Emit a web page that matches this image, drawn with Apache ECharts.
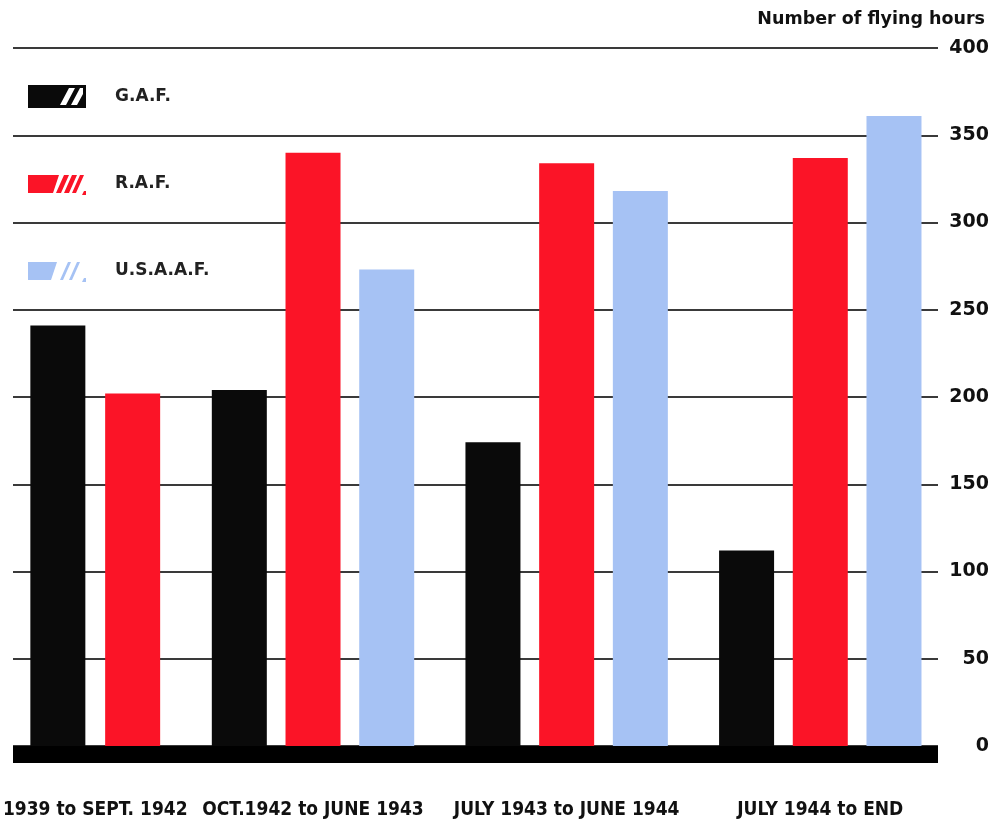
<!DOCTYPE html>
<html>
<head>
<meta charset="utf-8">
<script src="https://cdn.jsdelivr.net/npm/echarts@6/dist/echarts.min.js"></script>
<style>
  html, body { margin: 0; padding: 0; background: #ffffff; }
  #chart { width: 995px; height: 822px; }
</style>
</head>
<body>
<div id="chart"></div>
<script>
// ---- data ----
const periods = ['1939 to SEPT. 1942', 'OCT.1942 to JUNE 1943', 'JULY 1943 to JUNE 1944', 'JULY 1944 to END'];
const gafHours = [241, 204, 174, 112];
const rafHours = [202, 340, 334, 337];
const usaafHours = [null, 273, 318, 361];
const yTicks = [0, 50, 100, 150, 200, 250, 300, 350, 400];
const seriesNames = ['G.A.F.', 'R.A.F.', 'U.S.A.A.F.'];
const yTitle = 'Number of flying hours';

// ---- styles ----
const colors = { gaf: '#0a0a0a', raf: '#fb1427', usaaf: '#a6c2f4' };
const gridTop = 48, gridBottom = 76;
const barW = 55;
const labelFont = "'Liberation Sans Narrow', 'DejaVu Sans Condensed', 'Arial Narrow', sans-serif";

const iconGaf = 'path://M0 0 L58 0 L58 23 L0 23 Z M32 20 L38 20 L47 3 L41 3 Z M43 20 L49 20 L55 9 L55 3 L52 3 Z';
const iconRaf = 'path://M0 3 L31 3 L25 21 L0 21 Z M28 21 L33 21 L41 3 L36 3 Z M36 21 L41 21 L49 3 L44 3 Z M44 21 L48 21 L56 3 L52 3 Z M54 23 L58 23 L58 19 L56 19 Z M0 0 L0.01 0 Z';
const iconUsaaf = 'path://M0 3 L29 3 L23 21 L0 21 Z M32 21 L35 21 L43 3 L40 3 Z M41 21 L44 21 L52 3 L49 3 Z M54 23 L58 23 L58 19 L56 19 Z M0 0 L0.01 0 Z';

const firstOnly = arr => arr.slice(0, 1);
const restOf = arr => arr.slice(1);

const catLabel = { margin: 55, interval: 0, fontFamily: labelFont, fontWeight: 'bold', fontSize: 19, color: '#111' };

const chart = echarts.init(document.getElementById('chart'));
chart.setOption({
  backgroundColor: '#ffffff',
  animation: false,
  title: {
    text: yTitle,
    right: 10,
    top: 10,
    padding: 0,
    textStyle: { fontFamily: 'DejaVu Sans', fontWeight: 'bold', fontSize: 17.5, color: '#111' }
  },
  legend: {
    orient: 'vertical',
    left: 28,
    top: 85,
    padding: 0,
    itemWidth: 58,
    itemHeight: 23,
    itemGap: 64,
    selectedMode: false,
    textStyle: { fontFamily: 'DejaVu Sans', fontWeight: 'bold', fontSize: 17, color: '#222', padding: [4, 0, 0, 24] },
    data: [
      { name: seriesNames[0], icon: iconGaf },
      { name: seriesNames[1], icon: iconRaf },
      { name: seriesNames[2], icon: iconUsaaf }
    ]
  },
  grid: [
    { left: 13, right: 57, top: gridTop, bottom: gridBottom, outerBoundsMode: 'none' },
    { left: 0, width: 190.5, top: gridTop, bottom: gridBottom, outerBoundsMode: 'none' },
    { left: 186.2, right: 47.9, top: gridTop, bottom: gridBottom, outerBoundsMode: 'none' }
  ],
  xAxis: [
    {
      gridIndex: 0, type: 'value', min: 0, max: 1,
      axisLine: { show: true, onZero: false, lineStyle: { color: '#000', width: 17, cap: 'butt' } },
      offset: 8.5,
      axisTick: { show: false }, axisLabel: { show: false }, splitLine: { show: false }
    },
    {
      gridIndex: 1, type: 'category', data: firstOnly(periods),
      axisLine: { show: false }, axisTick: { show: false }, axisLabel: catLabel
    },
    {
      gridIndex: 2, type: 'category', data: restOf(periods),
      axisLine: { show: false }, axisTick: { show: false }, axisLabel: catLabel
    }
  ],
  yAxis: [
    {
      gridIndex: 0, type: 'value', position: 'right',
      min: yTicks[0], max: yTicks[yTicks.length - 1], interval: yTicks[1] - yTicks[0],
      axisLine: { show: false }, axisTick: { show: false },
      axisLabel: { align: 'right', margin: 51, fontFamily: 'DejaVu Sans', fontWeight: 'bold', fontSize: 19, color: '#111' },
      splitLine: { show: true, lineStyle: { color: '#3a3a3a', width: 2 } }
    },
    { gridIndex: 1, type: 'value', min: yTicks[0], max: yTicks[yTicks.length - 1], show: false },
    { gridIndex: 2, type: 'value', min: yTicks[0], max: yTicks[yTicks.length - 1], show: false }
  ],
  series: [
    { name: seriesNames[0], type: 'bar', xAxisIndex: 1, yAxisIndex: 1, data: firstOnly(gafHours),
      barWidth: barW, barGap: '36%', itemStyle: { color: colors.gaf } },
    { name: seriesNames[1], type: 'bar', xAxisIndex: 1, yAxisIndex: 1, data: firstOnly(rafHours),
      barWidth: barW, barGap: '36%', itemStyle: { color: colors.raf } },
    { name: seriesNames[0], type: 'bar', xAxisIndex: 2, yAxisIndex: 2, data: restOf(gafHours),
      barWidth: barW, barGap: '34%', itemStyle: { color: colors.gaf } },
    { name: seriesNames[1], type: 'bar', xAxisIndex: 2, yAxisIndex: 2, data: restOf(rafHours),
      barWidth: barW, barGap: '34%', itemStyle: { color: colors.raf } },
    { name: seriesNames[2], type: 'bar', xAxisIndex: 2, yAxisIndex: 2, data: restOf(usaafHours),
      barWidth: barW, barGap: '34%', itemStyle: { color: colors.usaaf } }
  ]
});
</script>
</body>
</html>
